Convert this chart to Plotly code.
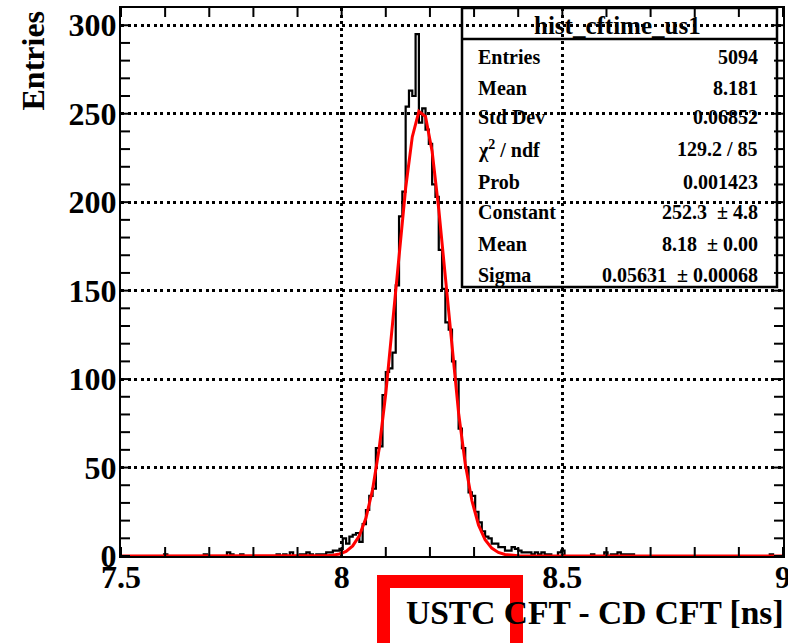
import numpy as np
import plotly.graph_objects as go

# ---- histogram: 200 bins over [7.5, 9.0] ----
x_min, x_max, n_bins = 7.5, 9.0, 200
counts = [0] * n_bins
filled = {
    13: 1, 25: 1, 32: 2, 33: 1, 36: 1, 47: 1, 49: 1, 51: 2,
    54: 1, 55: 1, 56: 2, 57: 1, 59: 1, 60: 1, 61: 1, 62: 2, 63: 2,
    64: 3, 65: 3, 66: 4, 67: 10, 68: 7, 69: 11, 70: 12, 71: 13, 72: 8,
    73: 18, 74: 26, 75: 34, 76: 38, 77: 61, 78: 62, 79: 91, 80: 104,
    81: 106, 82: 115, 83: 153, 84: 192, 85: 206, 86: 254, 87: 263,
    88: 260, 89: 295, 90: 245, 91: 253, 92: 241, 93: 233, 94: 210,
    95: 203, 96: 173, 97: 151, 98: 132, 99: 128, 100: 110, 101: 100,
    102: 72, 103: 61, 104: 50, 105: 36, 106: 34, 107: 25, 108: 19,
    109: 14, 110: 11, 111: 10, 112: 7, 113: 7, 114: 5, 115: 5, 116: 3,
    117: 3, 118: 5, 119: 4, 120: 3, 121: 2, 122: 2, 123: 2, 124: 1,
    125: 2, 126: 1, 127: 2, 128: 1, 129: 1, 132: 2, 133: 3, 142: 1,
    146: 2, 148: 1, 149: 1, 150: 2, 151: 1, 152: 1, 153: 1, 154: 1,
    196: 1,
}
for b, v in filled.items():
    counts[b] = v

edges = np.linspace(x_min, x_max, n_bins + 1)

# ---- Gaussian fit parameters (as reported in the stats box) ----
fit_const, fit_mean, fit_sigma = 252.3, 8.18, 0.05631
fx = np.linspace(x_min, x_max, 101)
fy = fit_const * np.exp(-0.5 * ((fx - fit_mean) / fit_sigma) ** 2)

x_ticks = [7.5, 8.0, 8.5, 9.0]
x_tick_text = ["7.5", "8", "8.5", "9"]
x_minor_step, y_minor_step = 0.1, 10

stat_labels = ["Entries", "Mean", "Std Dev", "\u03c7<sup>2</sup> / ndf", "Prob",
               "Constant", "Mean", "Sigma"]
stat_values = ["5094", "8.181", "0.06852", "129.2 / 85", "0.001423",
               "252.3 \u00a0\u00b1 4.8", "8.18 \u00a0\u00b1 0.00",
               "0.05631 \u00a0\u00b1 0.00068"]
hist_name = "hist_cftime_us1"

y_max = 1.05 * max(counts)

# frame geometry (pixels in the 788x643 page)
W, H = 788, 643
PL, PR, PT, PB = 121, 783, 8, 556
TICK = 9  # tick length in pixels


def px(xp):
    return (xp - PL) / (PR - PL)


def py(yp):
    return (PB - yp) / (PB - PT)


FONT = "Liberation Serif"

fig = go.Figure()
fig.add_trace(go.Scatter(
    x=edges, y=counts + [counts[-1]], mode="lines", line_shape="hv",
    line=dict(color="black", width=2.2), hoverinfo="skip", showlegend=False,
))
fig.add_trace(go.Scatter(
    x=fx, y=fy, mode="lines", line=dict(color="#ff0000", width=3),
    hoverinfo="skip", showlegend=False,
))

tick_font = dict(family=FONT, size=32, color="black", weight="bold")

fig.update_xaxes(
    range=[x_min, x_max], tickmode="array", tickvals=x_ticks,
    ticktext=x_tick_text, automargin=False,
    showline=True, linecolor="black", linewidth=2, mirror=True, ticks="",
    showgrid=True, gridcolor="black", gridwidth=2.5, griddash="3px,3.5px",
    zeroline=False, tickfont=tick_font,
    ticklabeloverflow="allow", ticklabelstandoff=-8,
)
fig.update_yaxes(
    range=[0, y_max], tickmode="linear", tick0=0, dtick=50, automargin=False,
    showline=True, linecolor="black", linewidth=2, mirror=True, ticks="",
    showgrid=True, gridcolor="black", gridwidth=2.5, griddash="3px,3.5px",
    zeroline=False, tickfont=tick_font, ticklabelstandoff=-4,
)

shapes = []
# tick marks on all four sides of the frame, placed on the axis scales
tick_line = dict(color="black", width=2)
dx_pap = TICK / (PR - PL)
dy_pap = TICK / (PB - PT)
for t in np.round(np.arange(x_min, x_max + 1e-9, x_minor_step), 3):
    shapes.append(dict(type="line", xref="x", yref="paper", x0=t, x1=t,
                       y0=0, y1=dy_pap, line=tick_line))
    shapes.append(dict(type="line", xref="x", yref="paper", x0=t, x1=t,
                       y0=1 - dy_pap, y1=1, line=tick_line))
for t in np.arange(0, y_max, y_minor_step):
    shapes.append(dict(type="line", xref="paper", yref="y", x0=0, x1=dx_pap,
                       y0=t, y1=t, line=tick_line))
    shapes.append(dict(type="line", xref="paper", yref="y", x0=1 - dx_pap,
                       x1=1, y0=t, y1=t, line=tick_line))

shapes += [
    # stats box and its title separator
    dict(type="rect", xref="paper", yref="paper", x0=px(462), x1=px(777),
         y0=py(287), y1=py(8), line=dict(color="black", width=2.5)),
    dict(type="line", xref="paper", yref="paper", x0=px(462), x1=px(777),
         y0=py(39), y1=py(39), line=dict(color="black", width=2.5)),
    # red highlight box around the axis title
    dict(type="rect", xref="paper", yref="paper", x0=px(383.5), x1=px(516.5),
         y0=py(660), y1=py(581.5), line=dict(color="#ff0000", width=13)),
]

annotations = [
    dict(text=hist_name, x=px(617), y=py(25), xref="paper", yref="paper",
         xanchor="center", yanchor="middle", showarrow=False,
         font=dict(family=FONT, size=25, color="black", weight="bold")),
    dict(text="USTC CFT - CD CFT [ns]", x=px(786), y=py(612), xref="paper",
         yref="paper", xanchor="right", yanchor="middle", showarrow=False,
         font=dict(family=FONT, size=33.5, color="black", weight="bold")),
    dict(text="Entries", x=px(32.5), y=py(61), xref="paper", yref="paper",
         xanchor="center", yanchor="middle", showarrow=False, textangle=-90,
         font=dict(family=FONT, size=32, color="black", weight="bold")),
]
row_y = [57, 88, 117, 149, 182, 212, 244, 275]
for lab, val, yy in zip(stat_labels, stat_values, row_y):
    annotations.append(dict(
        text=lab, x=px(476), y=py(yy), xref="paper", yref="paper",
        xanchor="left", yanchor="middle", showarrow=False,
        font=dict(family=FONT, size=20, color="black", weight="bold")))
    annotations.append(dict(
        text=val, x=px(760), y=py(yy), xref="paper", yref="paper",
        xanchor="right", yanchor="middle", showarrow=False,
        font=dict(family=FONT, size=20, color="black", weight="bold")))

fig.update_layout(
    width=W, height=H,
    margin=dict(l=PL, r=W - PR, t=PT, b=H - PB, pad=0),
    paper_bgcolor="white", plot_bgcolor="white",
    shapes=shapes, annotations=annotations, showlegend=False,
)

fig.write_html("out.html")
